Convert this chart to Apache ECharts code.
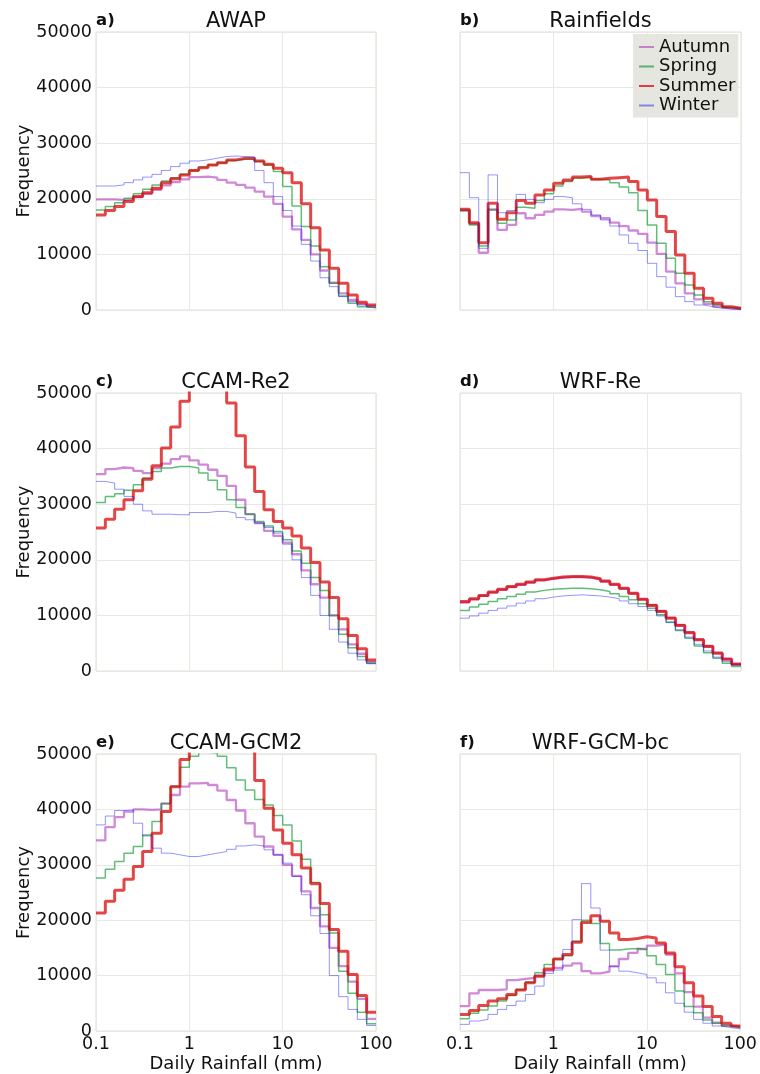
<!DOCTYPE html>
<html><head><meta charset="utf-8">
<script src="https://cdn.jsdelivr.net/npm/echarts@6/dist/echarts.min.js"></script>
<style>html,body{margin:0;padding:0;background:#fff}#c{width:760px;height:1074px}</style>
</head><body><div id="c"></div>
<script>
// histogram bin edges (mm), 10 log bins per decade
const BIN_EDGES = [0.1,0.1259,0.1585,0.1995,0.2512,0.3162,0.3981,0.5012,0.631,0.7943,
  1,1.259,1.585,1.995,2.512,3.162,3.981,5.012,6.31,7.943,
  10,12.59,15.85,19.95,25.12,31.62,39.81,50.12,63.1,79.43,100];
const SEASONS = ['Autumn','Spring','Summer','Winter'];
const PANEL_TITLES = ['AWAP','Rainfields','CCAM-Re2','WRF-Re','CCAM-GCM2','WRF-GCM-bc'];
const PANEL_LETTERS = ['a)','b)','c)','d)','e)','f)'];
const X_TICKS = [0.1,1,10,100];
const Y_TICKS = [0,10000,20000,30000,40000,50000];

// a) AWAP
const awapAutumn = [19900,19900,19800,19900,20300,20900,21600,22400,23000,23500,23900,24000,23800,23400,22900,22500,22000,21300,20400,19100,16800,14500,12600,10000,7100,4900,3000,1800,1100,700];
const awapSpring = [18000,18600,19300,20100,20900,21700,22500,23200,23800,24400,25100,25700,26100,26500,26900,27100,27100,26700,26100,24900,22200,18700,15000,11500,7800,4800,2500,1200,600,400];
const awapSummer = [17100,17900,18600,19500,20400,21100,21900,22900,23600,24300,25100,25600,26100,26500,27000,27300,27300,26800,26200,25500,24700,22900,19100,14800,10800,7500,4800,2700,1400,900];
const awapWinter = [22300,22300,22500,22900,23400,23900,24400,25100,25800,26400,26800,27000,27300,27600,27700,27600,27500,25100,22900,20400,17900,15100,11800,8800,5800,4200,2400,1500,900,500];
// b) Rainfields
const rfAutumn = [17900,15500,10300,18100,14400,15300,17400,16500,17100,17700,18100,18000,18200,17700,16900,16500,15700,15100,14300,13700,12100,10100,6900,4800,3000,1900,1100,600,300,200];
const rfSpring = [17900,15300,11500,18000,15600,16200,18500,18300,19700,20900,22300,23100,23700,23900,23500,23400,22900,22100,21100,17900,15300,12000,9300,6600,4500,2700,1500,900,500,300];
const rfSummer = [18100,15700,12100,19200,16300,17500,19700,19200,20700,21600,22800,23400,23900,24000,23500,23700,23800,23900,23100,21600,19800,16800,14100,9900,6600,3900,2100,1200,600,300];
const rfWinter = [24700,20200,11100,24300,17500,17900,20800,19900,19300,19900,20400,20200,19100,18100,17100,16200,15100,13500,12000,10700,8400,6000,4100,2400,1500,900,600,300,200,100];
// c) CCAM-Re2
const ccamReAutumn = [35400,36300,36600,36500,36000,35600,36500,37300,38100,38600,37900,37100,36200,35100,33300,30800,28200,26600,25200,24300,23100,21000,18100,15600,13200,10000,7500,4800,3100,1600];
const ccamReSpring = [30300,31400,31900,32500,33500,34700,35900,36500,36800,36800,36500,35600,34300,32600,30800,29400,28200,26900,26100,25100,23600,21600,19400,16800,14500,10000,6600,4200,2600,1400];
const ccamReSummer = [25700,27300,29100,30800,32400,34500,36900,40100,43900,48500,55000,60000,58000,53000,48200,42300,36700,32300,29000,26900,25700,24300,22100,19500,16000,13200,9400,6400,4000,2000];
const ccamReWinter = [34100,33800,32700,31400,30000,28800,28200,28200,28100,28100,28500,28500,28700,28700,28400,27600,27200,26600,25800,24800,22800,20000,16800,13600,10000,7500,5200,3200,2000,1300];
// d) WRF-Re
const wrfReAutumn = [12300,12900,13500,14100,14600,15100,15500,15900,16300,16600,16800,16900,16900,16800,16500,16100,15500,14800,13900,12900,11900,10800,9600,8300,7000,5700,4500,3300,2200,1300];
const wrfReSpring = [10900,11500,12000,12500,13000,13400,13800,14200,14500,14700,14800,14900,14900,14800,14600,14300,13900,13400,12800,12100,11300,10100,8800,7300,5900,4500,3300,2300,1400,800];
const wrfReSummer = [12500,13000,13600,14200,14700,15200,15600,16000,16400,16700,16900,17000,17000,16900,16600,16200,15600,14900,14000,12900,11800,10700,9500,8200,6900,5600,4400,3200,2100,1200];
const wrfReWinter = [9500,9900,10400,10900,11300,11700,12200,12600,13000,13300,13500,13600,13700,13600,13500,13300,13000,12600,12100,11600,10900,9900,8700,7400,6100,4800,3600,2500,1700,1100];
// e) CCAM-GCM2
const ccamGcmAutumn = [34400,36800,38600,39600,40000,39900,40000,41100,42600,44100,44700,44800,44400,43400,41700,39800,37500,35100,33300,31800,30000,28000,25200,22200,18900,15000,11700,8900,5800,2200];
const ccamGcmSpring = [27600,29200,30600,32100,33300,35400,37800,41000,44200,47600,49600,50300,50200,49600,47500,45300,43500,41800,40800,38900,37200,34300,31000,26800,21000,17700,10800,6800,3400,1300];
const ccamGcmSummer = [21300,23400,25400,27400,29700,32400,35700,39600,44100,49000,53000,56000,58000,58000,57000,55000,52000,45200,40200,36300,33900,31800,29400,26600,23000,18300,14400,10200,6400,3400];
const ccamGcmWinter = [37200,38800,39800,39900,37500,35200,33000,32100,31800,31500,31500,31800,32100,32400,32800,33400,33600,33400,32700,31800,30300,27900,24600,20800,17600,10000,6200,3900,2100,1000];
// f) WRF-GCM-bc
const wrfGcmAutumn = [4500,6800,7400,7400,7500,9200,9400,9600,10000,10900,11400,11800,12200,10800,10400,10700,11700,13000,14100,14800,15400,15600,13800,10400,7000,4400,2400,1500,1000,800];
const wrfGcmSpring = [2200,3200,3800,4500,5400,6400,7500,8800,10500,12000,13000,13600,16200,20000,19400,15800,14600,14800,14900,14700,13600,12000,10200,7200,4400,3300,2000,1400,900,600];
const wrfGcmSummer = [3000,3700,4600,5400,5800,6600,7400,8700,9900,11200,13000,13800,16000,19600,20800,19800,17700,16500,16700,17000,16800,15900,14100,11600,8700,6300,4400,2600,1400,900];
const wrfGcmWinter = [1200,1800,2100,3000,3900,4600,5400,6600,8100,10400,11000,14700,20100,26600,22200,14600,11600,10800,10500,10200,9600,8700,6900,5000,3400,2100,1400,900,600,400];

const PANEL_DATA = [
  [awapAutumn, awapSpring, awapSummer, awapWinter],
  [rfAutumn, rfSpring, rfSummer, rfWinter],
  [ccamReAutumn, ccamReSpring, ccamReSummer, ccamReWinter],
  [wrfReAutumn, wrfReSpring, wrfReSummer, wrfReWinter],
  [ccamGcmAutumn, ccamGcmSpring, ccamGcmSummer, ccamGcmWinter],
  [wrfGcmAutumn, wrfGcmSpring, wrfGcmSummer, wrfGcmWinter]
];

const STYLE = {
  Autumn: {color: 'rgba(170,40,180,0.55)', width: 2.3},
  Spring: {color: 'rgba(0,150,40,0.62)', width: 1.5},
  Summer: {color: 'rgba(215,0,0,0.72)', width: 3},
  Winter: {color: 'rgba(0,0,255,0.42)', width: 1}
};

const FONT = "'DejaVu Sans', sans-serif";
const COL_LEFT = [96, 460], COL_W = [280, 281];
const ROW_TOP = [32, 393, 754], ROW_H = 278;
const GRID_COLOR = '#e9e9e3';

const grids = [], xAxes = [], yAxes = [], series = [], graphics = [];
PANEL_TITLES.forEach((t, p) => {
  const col = p % 2, row = Math.floor(p / 2);
  const left = COL_LEFT[col], top = ROW_TOP[row], w = COL_W[col];
  grids.push({left, top, width: w, height: ROW_H, show: true, borderColor: '#dddcd5', borderWidth: 1, backgroundColor: '#fff'});
  xAxes.push({
    type: 'log', logBase: 10, gridIndex: p, min: X_TICKS[0], max: X_TICKS[X_TICKS.length - 1],
    axisLine: {show: false}, axisTick: {show: false},
    splitLine: {show: true, lineStyle: {color: GRID_COLOR, width: 1}},
    minorTick: {show: false}, minorSplitLine: {show: false},
    axisLabel: {show: row === 2, margin: 4, fontFamily: FONT, fontSize: 17.5, color: '#111',
      formatter: v => String(parseFloat(Number(v).toPrecision(4)))},
    name: row === 2 ? 'Daily Rainfall (mm)' : '', nameLocation: 'middle', nameGap: 24, nameMoveOverlap: false,
    nameTextStyle: {fontFamily: FONT, fontSize: 18, color: '#111'}
  });
  yAxes.push({
    type: 'value', gridIndex: p, min: Y_TICKS[0], max: Y_TICKS[Y_TICKS.length - 1], interval: Y_TICKS[1] - Y_TICKS[0],
    axisLine: {show: false}, axisTick: {show: false},
    splitLine: {show: true, lineStyle: {color: GRID_COLOR, width: 1}},
    axisLabel: {show: col === 0, margin: 4, fontFamily: FONT, fontSize: 17.5, color: '#111',
      formatter: v => String(Math.round(v))},
    name: col === 0 ? 'Frequency' : '', nameLocation: 'middle', nameGap: 63, nameMoveOverlap: false,
    nameTextStyle: {fontFamily: FONT, fontSize: 18, color: '#111'}
  });
  PANEL_DATA[p].forEach((vals, s) => {
    const name = SEASONS[s];
    series.push({
      type: 'line', name, xAxisIndex: p, yAxisIndex: p, step: 'end', symbol: 'none', clip: true,
      lineStyle: {color: STYLE[name].color, width: STYLE[name].width},
      itemStyle: {color: STYLE[name].color},
      data: BIN_EDGES.map((e, i) => [e, vals[Math.min(i, vals.length - 1)]])
    });
  });
  graphics.push({type: 'text', x: left + w / 2, y: top - 10,
    style: {text: t, fontFamily: FONT, fontSize: 21, fill: '#111', align: 'center', verticalAlign: 'middle'}});
  graphics.push({type: 'text', x: left, y: top - 11,
    style: {text: PANEL_LETTERS[p], fontFamily: FONT, fontSize: 16.5, fontWeight: 'bold', fill: '#111', align: 'left', verticalAlign: 'middle'}});
});

const chart = echarts.init(document.getElementById('c'), null, {renderer: 'canvas'});
chart.setOption({
  animation: false,
  backgroundColor: '#fff',
  grid: grids, xAxis: xAxes, yAxis: yAxes, series,
  graphic: graphics,
  legend: {
    data: SEASONS, left: 633, top: 34, orient: 'vertical',
    backgroundColor: '#e6e6e0', borderWidth: 0, padding: [4, 3, 3, 5],
    itemGap: 1.5, itemWidth: 15, itemHeight: 16,
    itemStyle: {opacity: 0},
    textStyle: {fontFamily: FONT, fontSize: 18, color: '#111'}
  }
});
</script></body></html>
